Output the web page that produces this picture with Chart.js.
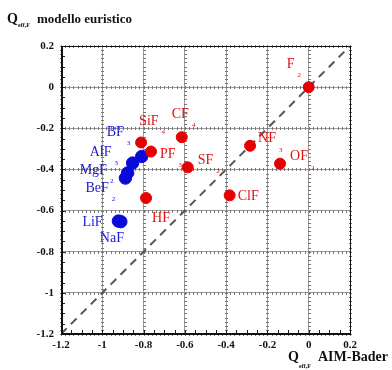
<!DOCTYPE html>
<html>
<head>
<meta charset="utf-8">
<script src="https://cdn.jsdelivr.net/npm/chart.js@4/dist/chart.umd.min.js"></script>
<style>
  body { margin: 0; background: #fff; }
  #wrap { width: 392px; height: 370px; }
</style>
</head>
<body>
<div id="wrap"><canvas id="myChart" width="392" height="370"></canvas></div>
<script>
// Molecole "rosse" (covalenti)
const redNames = ['F', 'CF', 'SiF', 'PF', 'SF', 'HF', 'NF', 'OF', 'ClF'];
const redSubs = ['2', '4', '4', '3', '2', '', '3', '2', ''];
const redX = [0, -0.615, -0.812, -0.764, -0.586, -0.788, -0.284, -0.139, -0.383];
const redY = [0, -0.243, -0.269, -0.313, -0.390, -0.539, -0.285, -0.372, -0.526];

// Molecole "blu" (ioniche)
const blueNames = ['BF', 'AlF', 'MgF', 'BeF', 'LiF', 'NaF'];
const blueSubs = ['3', '3', '2', '2', '', ''];
const blueX = [-0.809, -0.853, -0.877, -0.888, -0.922, -0.910];
const blueY = [-0.337, -0.369, -0.417, -0.442, -0.651, -0.654];

// retta y = x
const diagX = [-1.2, 0.2];
const diagY = [-1.2, 0.2];

const axisTicks = [-1.2, -1, -0.8, -0.6, -0.4, -0.2, 0, 0.2];

// spostamento delle etichette rispetto al punto (pixel)
const redLabelOffsets = [[-22, -23], [-10, -23], [-2, -21], [9, 3], [10, -7], [6, 20], [8, -7], [10, -7], [8, 1]];
const blueLabelOffsets = [[-35, -24], [-43, -11], [-48, -3], [-40, 10], [-36, 1], [-21, 17]];

const SERIF = '"Liberation Serif", "DejaVu Serif", serif';

function toPoints(xs, ys) {
    return xs.map((x, i) => ({ x: x, y: ys[i] }));
}

function formatTick(v) {
    const r = Math.round(v * 10) / 10;
    return r === 0 ? '0' : String(r);
}

// etichette con pedice
const labelPlugin = {
    id: 'labelPlugin',
    afterDatasetsDraw(chart) {
        const ctx = chart.ctx;
        const groups = [
            { ds: 0, names: redNames, subs: redSubs, offs: redLabelOffsets, color: '#e01010' },
            { ds: 1, names: blueNames, subs: blueSubs, offs: blueLabelOffsets, color: '#1a1ad0' }
        ];
        ctx.save();
        ctx.textBaseline = 'middle';
        groups.forEach(g => {
            const meta = chart.getDatasetMeta(g.ds);
            meta.data.forEach((pt, i) => {
                const x = pt.x + g.offs[i][0];
                const y = pt.y + g.offs[i][1];
                ctx.fillStyle = g.color;
                ctx.font = '14px ' + SERIF;
                ctx.fillText(g.names[i], x, y);
                if (g.subs[i]) {
                    const w = ctx.measureText(g.names[i]).width;
                    ctx.font = '7px ' + SERIF;
                    ctx.fillText(g.subs[i], x + w + 3, y + 11);
                }
            });
        });
        ctx.restore();
    }
};

// cornice, tacche minori e titoli
const framePlugin = {
    id: 'framePlugin',
    beforeDatasetsDraw(chart) {
        const ctx = chart.ctx;
        const a = chart.chartArea;
        const xs = chart.scales.x, ys = chart.scales.y;
        ctx.save();
        ctx.strokeStyle = '#777';
        ctx.lineWidth = 1;
        ctx.beginPath();
        // tacchette lungo le linee della griglia
        axisTicks.forEach(t => {
            const px = Math.round(xs.getPixelForValue(t)) + 0.5;
            const py = Math.round(ys.getPixelForValue(t)) + 0.5;
            for (let k = -1.2; k <= 0.2001; k += 0.02) {
                const yy = Math.round(ys.getPixelForValue(k)) + 0.5;
                const xx = Math.round(xs.getPixelForValue(k)) + 0.5;
                ctx.moveTo(px - 1.5, yy); ctx.lineTo(px + 1.5, yy);
                ctx.moveTo(xx, py - 1.5); ctx.lineTo(xx, py + 1.5);
            }
        });
        ctx.stroke();
        // tacche minori sugli assi
        ctx.strokeStyle = '#222';
        ctx.beginPath();
        for (let k = -1.2; k <= 0.2001; k += 0.05) {
            const yy = Math.round(ys.getPixelForValue(k)) + 0.5;
            const xx = Math.round(xs.getPixelForValue(k)) + 0.5;
            ctx.moveTo(a.left, yy); ctx.lineTo(a.left + 4, yy);
            ctx.moveTo(xx, a.bottom); ctx.lineTo(xx, a.bottom - 4);
        }
        ctx.stroke();
        ctx.restore();
    },
    afterDraw(chart) {
        const ctx = chart.ctx;
        const a = chart.chartArea;
        ctx.save();
        ctx.strokeStyle = '#111';
        ctx.lineWidth = 1;
        ctx.strokeRect(a.left + 0.5, a.top + 0.5, a.right - a.left, a.bottom - a.top);
        ctx.lineWidth = 2;
        ctx.beginPath();
        ctx.moveTo(a.left + 1, a.top);
        ctx.lineTo(a.left + 1, a.bottom);
        ctx.lineTo(a.right + 1, a.bottom);
        ctx.stroke();

        ctx.fillStyle = '#111';
        ctx.textBaseline = 'alphabetic';
        // titolo asse y
        ctx.font = 'bold 14px ' + SERIF;
        ctx.fillText('Q', 7, 23);
        ctx.font = 'bold 6px ' + SERIF;
        ctx.fillText('eff,F', 18, 27);
        ctx.font = 'bold 13px ' + SERIF;
        ctx.fillText('modello euristico', 37, 23);
        // titolo asse x
        ctx.font = 'bold 14px ' + SERIF;
        ctx.fillText('Q', 288, 361);
        ctx.font = 'bold 6px ' + SERIF;
        ctx.fillText('eff,F', 299, 368);
        ctx.font = 'bold 14px ' + SERIF;
        ctx.fillText('AIM-Bader', 318, 361);
        ctx.restore();
    }
};

const tickFont = { family: SERIF, size: 11, weight: 'bold' };

const ctx = document.getElementById('myChart').getContext('2d');
const myChart = new Chart(ctx, {
    type: 'scatter',
    data: {
        datasets: [
            {
                label: 'covalenti',
                data: toPoints(redX, redY),
                backgroundColor: '#e60000',
                borderColor: '#e60000',
                pointRadius: 5.5,
                pointHoverRadius: 5.5,
                order: 1
            },
            {
                label: 'ioniche',
                data: toPoints(blueX, blueY),
                backgroundColor: '#0a0ad8',
                borderColor: '#0a0ad8',
                pointRadius: 6.2,
                pointHoverRadius: 6.2,
                order: 2
            },
            {
                type: 'line',
                label: 'y = x',
                data: toPoints(diagX, diagY),
                borderColor: '#555',
                borderWidth: 2,
                borderDash: [8, 6],
                pointRadius: 0,
                fill: false,
                order: 3
            }
        ]
    },
    options: {
        responsive: false,
        devicePixelRatio: 1,
        animation: false,
        events: [],
        layout: {
            padding: { top: 46, right: 42, bottom: 0, left: 0 }
        },
        plugins: {
            legend: { display: false },
            tooltip: { enabled: false }
        },
        scales: {
            x: {
                type: 'linear',
                min: -1.2,
                max: 0.2,
                afterFit: s => { s.height = 36; },
                afterBuildTicks: s => { s.ticks = axisTicks.map(v => ({ value: v })); },
                ticks: {
                    font: tickFont,
                    color: '#111',
                    padding: 5,
                    maxRotation: 0,
                    callback: v => formatTick(v)
                },
                grid: { color: '#9a9a9a', lineWidth: 1, drawTicks: false },
                border: { display: false }
            },
            y: {
                type: 'linear',
                min: -1.2,
                max: 0.2,
                afterFit: s => { s.width = 61; },
                afterBuildTicks: s => { s.ticks = axisTicks.map(v => ({ value: v })); },
                ticks: {
                    font: tickFont,
                    color: '#111',
                    padding: 7,
                    callback: v => formatTick(v)
                },
                grid: { color: '#9a9a9a', lineWidth: 1, drawTicks: false },
                border: { display: false }
            }
        }
    },
    plugins: [framePlugin, labelPlugin]
});
</script>
</body>
</html>
